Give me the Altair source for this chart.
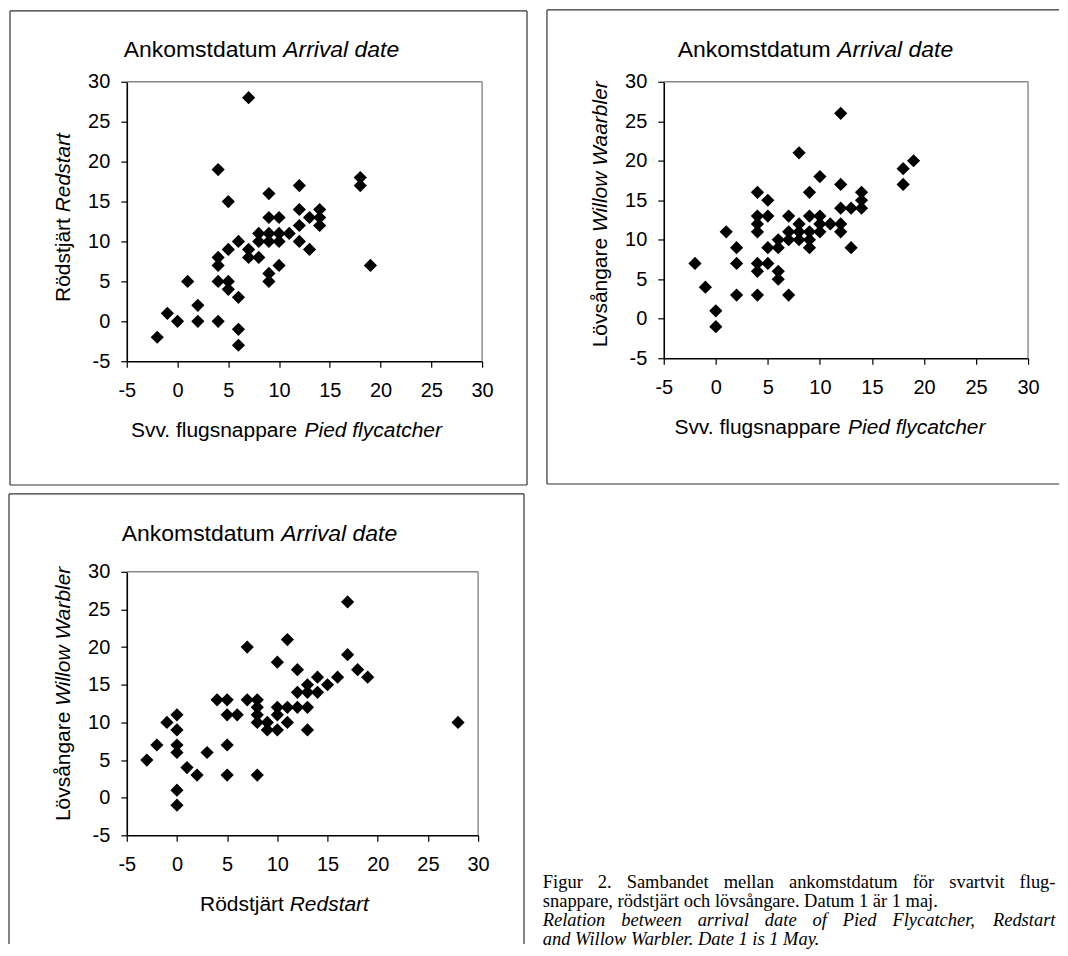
import altair as alt
import pandas as pd

# ---------------- data ----------------
# Panel 1: Pied flycatcher (x) vs Redstart (y)
p1_flycatcher = [7, 4, 5, 9, 12, 18, 18, 19, 12, 14, 13, 14, 14, 12, 9, 10,
                 8, 9, 10, 11, 8, 9, 10, 12, 13, 6, 5, 7, 7, 8, 4, 4,
                 10, 9, 9, 1, 4, 5, 5, 6, 2, -1, 0, 2, 4, 6, 6, -2]
p1_redstart = [28, 19, 15, 16, 17, 18, 17, 7, 14, 14, 13, 13, 12, 12, 13, 13,
               11, 11, 11, 11, 10, 10, 10, 10, 9, 10, 9, 9, 8, 8, 8, 7,
               7, 6, 5, 5, 5, 5, 4, 3, 2, 1, 0, 0, 0, -1, -3, -2]

# Panel 2: Pied flycatcher (x) vs Willow warbler (y)
p2_flycatcher = [12, 8, 10, 18, 19, 18, 12, 9, 4, 5, 14, 14, 14, 13, 12, 4,
                 5, 7, 9, 10, 4, 8, 10, 11, 12, 4, 1, 7, 8, 9, 10, 12,
                 6, 7, 8, 9, 9, 13, 5, 6, 2, 2, -2, 4, 5, 4, 6, 6,
                 -1, 2, 4, 7, 0, 0]
p2_warbler = [26, 21, 18, 19, 20, 17, 17, 16, 16, 15, 16, 15, 14, 14, 14, 13,
              13, 13, 13, 13, 12, 12, 12, 12, 12, 11, 11, 11, 11, 11, 11, 11,
              10, 10, 10, 10, 9, 9, 9, 9, 9, 7, 7, 7, 7, 6, 6, 5,
              4, 3, 3, 3, 1, -1]

# Panel 3: Redstart (x) vs Willow warbler (y)
p3_redstart = [17, 11, 7, 10, 17, 12, 18, 19, 16, 14, 15, 13, 12, 13, 14, 4,
               5, 7, 8, 8, 10, 11, 12, 13, 0, 5, 6, 8, 10, -1, 8, 9,
               11, 0, 9, 10, 13, -2, 0, 5, 0, 3, -3, 1, 2, 5, 8, 0,
               0, 28]
p3_warbler = [26, 21, 20, 18, 19, 17, 17, 16, 16, 16, 15, 15, 14, 14, 14, 13,
              13, 13, 13, 12, 12, 12, 12, 12, 11, 11, 11, 11, 11, 10, 10, 10,
              10, 9, 9, 9, 9, 7, 7, 7, 6, 6, 5, 4, 3, 3, 3, 1,
              -1, 10]

tick_values = [-5, 0, 5, 10, 15, 20, 25, 30]

title_text = ("Ankomstdatum", "Arrival date")
p1_xtitle = ("Svv. flugsnappare", "Pied flycatcher")
p1_ytitle = ("Rödstjärt", "Redstart")
p2_xtitle = ("Svv. flugsnappare", "Pied flycatcher")
p2_ytitle = ("Lövsångare", "Willow Waarbler")
p3_xtitle = ("Rödstjärt", "Redstart")
p3_ytitle = ("Lövsångare", "Willow Warbler")

# (text, style, justified)
caption_lines = [
    ("Figur 2. Sambandet mellan ankomstdatum för svartvit flug-", "normal", True),
    ("snappare, rödstjärt och lövsångare. Datum 1 är 1 maj.", "normal", False),
    ("Relation between arrival date of Pied Flycatcher, Redstart", "italic", True),
    ("and Willow Warbler. Date 1 is 1 May.", "italic", False),
]

# ---------------- styling helpers ----------------
SANS = "Liberation Sans"
SERIF = "Liberation Serif"
ONE = pd.DataFrame({"k": [0]})

# Arial / Liberation Sans advance widths (per 1000 em)
AW = {" ": 278, ".": 278, "A": 667, "S": 667, "P": 667, "R": 722, "L": 556,
      "W": 944, "a": 556, "b": 556, "c": 500, "d": 556, "e": 556, "f": 278,
      "g": 556, "h": 556, "i": 222, "j": 222, "k": 500, "l": 222, "m": 833,
      "n": 556, "o": 556, "p": 556, "r": 333, "s": 500, "t": 278, "u": 556,
      "v": 500, "w": 722, "y": 500, "ö": 556, "ä": 556, "å": 556}
# Times / Liberation Serif widths
TR = {" ": 250, ",": 250, ".": 250, "-": 333, "1": 500, "2": 500, "F": 556,
      "S": 556, "D": 722, "a": 444, "b": 500, "c": 444, "d": 500, "e": 444,
      "f": 333, "g": 500, "h": 500, "i": 278, "j": 278, "k": 500, "l": 278,
      "m": 778, "n": 500, "o": 500, "p": 500, "r": 333, "s": 389, "t": 278,
      "u": 500, "v": 500, "ä": 444, "å": 444, "ö": 500}
TI = {" ": 250, ",": 250, ".": 250, "1": 500, "R": 611, "P": 611, "F": 611,
      "W": 833, "D": 722, "M": 833, "a": 500, "b": 500, "c": 444, "d": 500,
      "e": 444, "f": 278, "h": 500, "i": 278, "l": 278, "n": 500, "o": 500,
      "r": 389, "s": 389, "t": 278, "v": 444, "w": 667, "y": 444}


def tw(s, size, table=AW):
    return sum(table.get(c, 500) for c in s) / 1000.0 * size


def text_at(txt, x, y, size, font=SANS, style="normal", align="left",
            angle=0):
    kw = dict(text=txt, align=align, baseline="middle", font=font,
              fontSize=size, fontStyle=style, color="black")
    if angle:
        kw["angle"] = angle
    return alt.Chart(ONE).mark_text(**kw).encode(x=alt.value(x), y=alt.value(y))


def htitle(parts, cx, y, size):
    n, it = parts
    w1, sp, w2 = tw(n, size), tw(" ", size), tw(it, size)
    start = cx - (w1 + sp + w2) / 2
    return [text_at(n, start, y, size),
            text_at(it, start + w1 + sp, y, size, style="italic")]


def vtitle(parts, x, cy, size):
    n, it = parts
    w1, sp, w2 = tw(n, size), tw(" ", size), tw(it, size)
    bottom = cy + (w1 + sp + w2) / 2
    return [text_at(n, x, bottom, size, angle=270),
            text_at(it, x, bottom - w1 - sp, size, style="italic", angle=270)]


def hline(x1, x2, y, color="#333333", w=1.2):
    return alt.Chart(ONE).mark_rule(color=color, strokeWidth=w).encode(
        x=alt.value(x1), x2=alt.value(x2), y=alt.value(y))


def vline(x, y1, y2, color="#333333", w=1.2):
    return alt.Chart(ONE).mark_rule(color=color, strokeWidth=w).encode(
        x=alt.value(x), y=alt.value(y1), y2=alt.value(y2))


def scatter(xs, ys):
    df = pd.DataFrame({"x": xs, "y": ys})
    common = dict(values=tick_values, grid=False, title=None,
                  domainColor="black", domainWidth=1.6,
                  tickColor="black", tickSize=6, tickWidth=1.2,
                  labelFont=SANS, labelFontSize=20, labelColor="black",
                  labelExpr="datum.value + ''", labelFlush=False,
                  labelOverlap=False)
    sc = alt.Scale(domain=[-5, 30], nice=False, zero=False)
    return alt.Chart(df).mark_point(
        shape="diamond", filled=True, color="black", size=175, opacity=1
    ).encode(
        x=alt.X("x:Q", scale=sc, axis=alt.Axis(orient="bottom", labelPadding=13, **common)),
        y=alt.Y("y:Q", scale=sc, axis=alt.Axis(orient="left", labelPadding=11, **common)),
    )


def plot_border(w, h):
    return [hline(0, w, 0, color="#888888", w=1.4),
            vline(w, 0, h, color="#888888", w=1.4)]


TS = 23     # chart title size
AS = 21     # axis title size

# ---------------- panel 1 ----------------
w1, h1 = 356, 280
L, R, T, B = -117, 401, -71, 404
p1_layers = [hline(L, R, T), hline(L, R, B), vline(L, T, B), vline(R, T, B)]
p1_layers += plot_border(w1, h1)
p1_layers += [scatter(p1_flycatcher, p1_redstart)]
p1_layers += htitle(title_text, 135, -32, TS)
p1_layers += htitle(p1_xtitle, w1 / 2 - 18, h1 + 70, AS)
p1_layers += vtitle(p1_ytitle, -63, h1 / 2 - 4, AS)
panel1 = alt.layer(*p1_layers).properties(width=w1, height=h1)

# ---------------- panel 2 ----------------
w2, h2 = 365, 277
L, R, T, B = -117, 396, -72, 403
p2_layers = [hline(L, R, T), hline(L, R, B), vline(L, T, B)]
p2_layers += plot_border(w2, h2)
p2_layers += [scatter(p2_flycatcher, p2_warbler)]
p2_layers += htitle(title_text, 152, -32, TS)
p2_layers += htitle(p2_xtitle, w2 / 2 - 16, h2 + 70, AS)
p2_layers += vtitle(p2_ytitle, -63, h2 / 2 - 6, AS)
panel2 = alt.layer(*p2_layers).properties(width=w2, height=h2)

# ---------------- panel 3 ----------------
w3, h3 = 352, 264
L, R, T, B = -118, 398, -78, 373
p3_layers = [hline(L, R, T), vline(L, T, B), vline(R, T, B)]
p3_layers += plot_border(w3, h3)
p3_layers += [scatter(p3_redstart, p3_warbler)]
p3_layers += htitle(title_text, 133, -38, TS)
p3_layers += htitle(p3_xtitle, w3 / 2 - 18, h3 + 70, AS)
p3_layers += vtitle(p3_ytitle, -63, h3 / 2 - 10, AS)
panel3 = alt.layer(*p3_layers).properties(width=w3, height=h3)

# ---------------- caption panel (justified paragraph) ----------------
w4, h4 = 528, 373
CS = 18.5
cap_left, cap_right = 12.8, 526.5
cap_y = [311, 330, 349, 368]
cap_layers = []
for (line, style, justify), y in zip(caption_lines, cap_y):
    table = TI if style == "italic" else TR
    if not justify:
        cap_layers.append(text_at(line, cap_left, y, CS, font=SERIF, style=style))
        continue
    words = line.split(" ")
    ww = [tw(w, CS, table) for w in words]
    gap = (cap_right - cap_left - sum(ww)) / (len(words) - 1)
    x = cap_left
    for w, wdt in zip(words, ww):
        cap_layers.append(text_at(w, x, y, CS, font=SERIF, style=style))
        x += wdt + gap
panel4 = alt.layer(*cap_layers).properties(width=w4, height=h4)

row1 = alt.hconcat(panel1, panel2, spacing=18)
row2 = alt.hconcat(panel3, panel4, spacing=5)
chart = alt.vconcat(row1, row2, spacing=7).properties(
    padding=0, background="white"
).configure_view(strokeWidth=0)

chart.save("out.html", embed_options={"renderer": "svg", "actions": False})
